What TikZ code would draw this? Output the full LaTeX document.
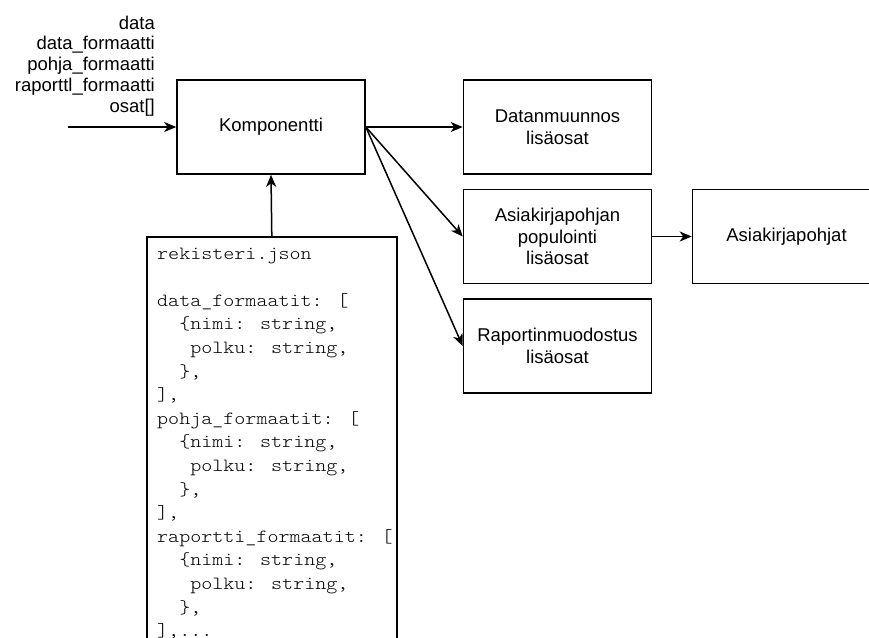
\documentclass[tikz,border=0pt]{standalone}
\usepackage{fontspec}
\setmainfont{Liberation Sans}
\newfontfamily\codefont{lmmonolt10-regular.otf}[FakeStretch=1.13]
\usetikzlibrary{arrows.meta}
\begin{document}
\begin{tikzpicture}[x=1pt,y=-1pt,
  box/.style={draw, line width=1.6pt, minimum width=188pt, minimum height=94pt,
    align=center, inner sep=0pt, font=\fontsize{18.5}{21.5}\selectfont},
  flow/.style={line width=1.5pt, -{Stealth[length=12pt,width=10pt,inset=3.5pt]}},
  lbl/.style={inner sep=0pt, anchor=base east, font=\fontsize{18.5}{21.5}\selectfont},
  codeline/.style={inner sep=0pt, anchor=base west, font=\codefont\fontsize{18.6}{23.6}\selectfont}]
\useasboundingbox (0,0) rectangle (869,637);
\clip (0,0) rectangle (869,637);
\fill[white] (0,0) rectangle (869,637);

% main component and plug-in boxes
\node[box] (komp)   at (271,127)     {Komponentti};
\node[box] (dat)    at (557.5,127)   {Datanmuunnos\\lisäosat};
\node[box] (pop)    at (557.5,236.5) {Asiakirjapohjan\\populointi\\lisäosat};
\node[box] (rap)    at (557.5,346)   {Raportinmuodostus\\lisäosat};
\node[box] (pohjat) at (786.5,236.5) {Asiakirjapohjat};

% input parameters
\foreach \t [count=\i from 0] in {data, data\_formaatti, pohja\_formaatti,
    raporttl\_formaatti, osat[]}
  \node[lbl] (in\i) at (155, 29+20.8*\i) {\t};
\coordinate (src) at (68,127);

% registry file box
\node[draw, line width=1.6pt, minimum width=250pt, minimum height=430pt,
  anchor=north west, inner sep=0pt] (reg) at (146,236) {};
\foreach \t [count=\i from 0] in {
    {rekisteri.json}, {},
    {data\_formaatit: [}, {\hphantom{xx}\{nimi: string,}, {\hphantom{xxx}polku: string,}, {\hphantom{xx}\},}, {],},
    {pohja\_formaatit: [}, {\hphantom{xx}\{nimi: string,}, {\hphantom{xxx}polku: string,}, {\hphantom{xx}\},}, {],},
    {raportti\_formaatit: [}, {\hphantom{xx}\{nimi: string,}, {\hphantom{xxx}polku: string,}, {\hphantom{xx}\},}}
  \node[codeline] (c\i) at (157, 259+23.6*\i) {\t};
\node[codeline] (c16) at (157, 259+23.6*16) {],...};

% connectors
\draw[flow] (src) -- (komp.west);
\draw[flow] (reg.north) -- (komp.south);
\draw[flow] (komp.east) -- (dat.west);
\draw[flow] (komp.east) -- (pop.west);
\draw[flow] (komp.east) -- (rap.west);
\draw[flow] (pop.east) -- (pohjat.west);
\end{tikzpicture}
\end{document}
